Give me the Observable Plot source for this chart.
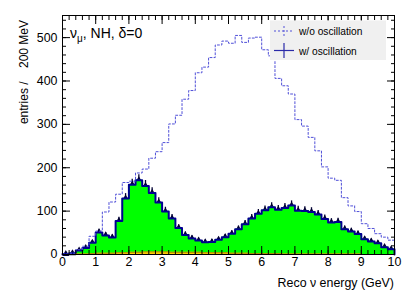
<!DOCTYPE html>
<html><head><meta charset="utf-8">
<script src="https://cdn.jsdelivr.net/npm/d3@7"></script>
<script src="https://cdn.jsdelivr.net/npm/@observablehq/plot@0.6"></script>
<style>
body{margin:0;background:#fff}
#chart{position:relative;width:415px;height:299px}
svg text{font-family:"Liberation Sans",Arial,sans-serif}
</style>
</head><body><div id="chart"></div>
<script>
// 50 bins of 200 MeV between 0 and 10 GeV
const binWidth = 0.2;
const noOsc = [1,3,11,19,42,54,98,121,139,166,169,188,197,222,237,258,301,321,358,378,
  419,432,454,483,492,487,505,489,499,501,472,458,406,389,370,311,296,270,239,202,
  176,171,131,112,99,71,60,48,40,33];
const withOsc = [1,3,9,15,27,51,44,39,77,129,161,171,158,142,120,99,83,61,45,37,
  32,28,29,34,40,48,58,70,83,94,102,109,103,107,113,101,100,98,92,82,
  74,75,58,53,47,35,30,26,17,12];
const background = [0,0,1,1,2,3,3,3,4,4,5,5,6,6,6,6,5,5,5,5,
  5,4,4,4,4,3,3,3,2,2,2,2,2,1,1,1,1,1,1,1,
  1,1,1,1,1,0,0,0,0,0];
const xTicks = [0,1,2,3,4,5,6,7,8,9,10];
const xMinor = d3.range(0, 10.001, 0.2);
const yTicks = [0,100,200,300,400,500];
const yMinor = d3.range(0, 551, 20);
const yMax = 551;
const legendLabels = ["w/o oscillation", "w/ oscillation"];

const bins = withOsc.map((v, i) => ({c: (i + 0.5) * binWidth, v, lo: v - Math.sqrt(v), hi: v + Math.sqrt(v)}));
function steps(values, closed) {
  const pts = values.map((v, i) => ({x: i * binWidth, y: v}));
  pts.push({x: values.length * binWidth, y: values[values.length - 1]});
  if (closed) { pts.unshift({x: 0, y: 0}); pts.push({x: values.length * binWidth, y: 0}); }
  return pts;
}
const oscSteps = steps(withOsc, true);
const bgSteps = steps(background, false);
const noOscSteps = steps(noOsc, false);

const navy = "#000090";
const plot = Plot.plot({
  width: 415, height: 299,
  marginLeft: 62, marginRight: 21, marginTop: 15, marginBottom: 45,
  style: {fontFamily: '"Liberation Sans", Arial, sans-serif', fontSize: "12.4px", color: "black", background: "white"},
  x: {domain: [0, 10]},
  y: {domain: [0, yMax]},
  marks: [
    Plot.ruleX(bins, {x: "c", y1: "lo", y2: "hi", stroke: "#000033", strokeWidth: 1.3}),
    Plot.dot(bins, {x: "c", y: "v", symbol: "triangle", r: 2.6, fill: "#000033", stroke: "none"}),
    Plot.areaY(oscSteps, {x: "x", y: "y", curve: "step-after", fill: "#00ff00"}),
    Plot.line(oscSteps, {x: "x", y: "y", curve: "step-after", stroke: navy, strokeWidth: 2}),
    Plot.areaY(bgSteps, {x: "x", y: "y", curve: "step-after", fill: "#ffcc00"}),
    Plot.line(bgSteps, {x: "x", y: "y", curve: "step-after", stroke: "#a08a00", strokeWidth: 1}),
    Plot.line(noOscSteps, {x: "x", y: "y", curve: "step-after", stroke: "#5050d8", strokeWidth: 1, strokeDasharray: "2,2"}),
    // inward ticks on all four sides
    Plot.axisX({anchor: "bottom", ticks: xTicks, tickSize: -8, fill: "none", label: null}),
    Plot.axisX({anchor: "bottom", ticks: xMinor, tickSize: -4, fill: "none", label: null}),
    Plot.axisX({anchor: "top", ticks: xTicks, tickSize: -8, fill: "none", label: null}),
    Plot.axisX({anchor: "top", ticks: xMinor, tickSize: -4, fill: "none", label: null}),
    Plot.axisY({anchor: "left", ticks: yTicks, tickSize: -8, fill: "none", label: null}),
    Plot.axisY({anchor: "left", ticks: yMinor, tickSize: -4, fill: "none", label: null}),
    Plot.axisY({anchor: "right", ticks: yTicks, tickSize: -8, fill: "none", label: null}),
    Plot.axisY({anchor: "right", ticks: yMinor, tickSize: -4, fill: "none", label: null}),
    // tick labels
    Plot.axisX({anchor: "bottom", ticks: xTicks, tickSize: 0, tickPadding: 3, label: null}),
    Plot.axisY({anchor: "left", ticks: yTicks, tickSize: 0, tickPadding: 5, label: null}),
    Plot.frame({stroke: "black", strokeWidth: 1})
  ]
});
document.getElementById("chart").appendChild(plot);

const svg = d3.select(plot);
// axis titles
svg.append("text").attr("x", 394).attr("y", 287).attr("text-anchor", "end")
  .attr("font-size", 12.4).attr("fill", "black").text("Reco \u03BD energy (GeV)");
svg.append("text").attr("transform", "translate(28,20) rotate(-90)").attr("text-anchor", "end")
  .attr("font-size", 12).attr("fill", "black").style("white-space", "pre")
  .text("entries /    200 MeV");
// channel label
const t = svg.append("text").attr("x", 70).attr("y", 38).attr("font-size", 14)
  .attr("text-anchor", "start").attr("fill", "black");
t.append("tspan").text("\u03BD");
t.append("tspan").attr("dy", 3.5).attr("font-size", 10).text("\u03BC");
t.append("tspan").attr("dy", -3.5).text(", NH, \u03B4=0");
// legend
const lg = svg.append("g").attr("text-anchor", "start");
lg.append("rect").attr("x", 270).attr("y", 20.5).attr("width", 116).attr("height", 39.5).attr("fill", "#f0f0f0");
const rows = [{y: 31, dash: "2,2", stroke: "#5050d8", w: 1, tick: [26, 36]},
              {y: 50.5, dash: null, stroke: "#2a2aa8", w: 1.2, tick: [43, 58]}];
rows.forEach((r, i) => {
  lg.append("line").attr("x1", 274).attr("x2", 294).attr("y1", r.y).attr("y2", r.y)
    .attr("stroke", r.stroke).attr("stroke-width", r.w).attr("stroke-dasharray", r.dash);
  lg.append("line").attr("x1", 284).attr("x2", 284).attr("y1", r.tick[0]).attr("y2", r.tick[1])
    .attr("stroke", r.stroke).attr("stroke-width", r.w).attr("stroke-dasharray", r.dash);
  lg.append("text").attr("x", 299).attr("y", r.y + 4).attr("font-size", 10.2).attr("fill", "black")
    .attr("text-anchor", "start").text(legendLabels[i]);
});
</script>
</body></html>
